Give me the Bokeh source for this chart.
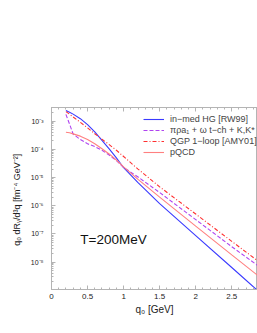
from bokeh.plotting import figure
from bokeh.models import FixedTicker, Legend, LegendItem, LinearAxis, Range1d, Label
from bokeh.embed import file_html
from bokeh.resources import INLINE

# photon energy q0 [GeV]
q0 = [0.2, 0.25, 0.3, 0.4, 0.5, 0.6, 0.7, 0.8, 0.9, 1.0, 1.2, 1.5, 2.0, 2.5, 2.86]

# rates q0 dR/d^3q [fm^-4 GeV^-2]
hg_rw99 = [2.40e-3, 2.09e-3, 1.78e-3, 1.23e-3, 7.6e-4, 4.2e-4, 2.09e-4, 1.05e-4,
           5.0e-5, 2.24e-5, 6.6e-6, 1.20e-6, 8.7e-8, 6.5e-9, 9.8e-10]
pi_rho_a1 = [1.74e-3, 7.9e-4, 3.5e-4, 2.24e-4, 1.58e-4, 1.26e-4, 9.3e-5, 6.3e-5,
             4.0e-5, 2.29e-5, 1.05e-5, 2.95e-6, 3.24e-7, 3.55e-8, 7.6e-9]
qgp_amy01 = [2.19e-3, 1.78e-3, 1.41e-3, 9.1e-4, 5.8e-4, 3.6e-4, 2.29e-4, 1.48e-4,
             9.3e-5, 5.6e-5, 2.0e-5, 4.7e-6, 5.1e-7, 5.5e-8, 1.12e-8]
pqcd = [4.07e-4, 3.89e-4, 3.55e-4, 2.95e-4, 2.24e-4, 1.58e-4, 1.05e-4, 6.9e-5,
        4.2e-5, 2.4e-5, 8.7e-6, 2.04e-6, 1.91e-7, 1.82e-8, 3.4e-9]

series_labels = ["in\u2212med HG [RW99]", "\u03c0\u03c1a\u2081 + \u03c9 t\u2212ch + K,K*",
                 "QGP 1\u2212loop [AMY01]", "pQCD"]

x_ticks = [0, 0.5, 1, 1.5, 2, 2.5]
x_tick_labels = ["0", "0.5", "1", "1.5", "2", "2.5"]
y_ticks = [1e-3, 1e-4, 1e-5, 1e-6, 1e-7, 1e-8]
y_tick_labels = ["10\u207b\u00b3", "10\u207b\u2074", "10\u207b\u2075", "10\u207b\u2076",
                 "10\u207b\u2077", "10\u207b\u2078"]

FONT = "Liberation Sans"
AX = "#b4b4b4"

p = figure(width=257, height=333, x_range=Range1d(0, 2.857),
           y_range=Range1d(1.076e-9, 3.06e-3), y_axis_type="log",
           output_backend="svg", toolbar_location=None,
           min_border_left=51, min_border_right=0, min_border_top=107, min_border_bottom=44)
p.grid.visible = False
p.outline_line_color = AX
p.background_fill_color = "white"
p.border_fill_color = "white"

x_minor = [i / 10 for i in range(0, 29)]
y_minor = [m * 10.0 ** e for e in range(-9, -2) for m in range(1, 10)]

for ax in [p.xaxis[0], p.yaxis[0]]:
    ax.axis_line_color = AX
    ax.major_tick_line_color = AX
    ax.minor_tick_line_color = AX
    ax.major_tick_in = 4
    ax.major_tick_out = 0
    ax.minor_tick_in = 2
    ax.minor_tick_out = 0
    ax.major_label_text_font = FONT
    ax.axis_label_text_font = FONT
    ax.axis_label_text_font_style = "normal"
    ax.major_label_text_color = "#222222"
    ax.axis_label_text_color = "#222222"

p.xaxis.ticker = FixedTicker(ticks=x_ticks, minor_ticks=x_minor)
p.xaxis.major_label_overrides = dict(zip(x_ticks, x_tick_labels))
p.xaxis.major_label_text_font_size = "8px"
p.xaxis.axis_label = "q\u2080 [GeV]"
p.xaxis.axis_label_text_font_size = "10px"
p.xaxis.major_label_standoff = 4
p.xaxis.axis_label_standoff = 2

p.yaxis.ticker = FixedTicker(ticks=y_ticks, minor_ticks=y_minor)
p.yaxis.major_label_overrides = dict(zip(y_ticks, y_tick_labels))
p.yaxis.major_label_text_font_size = "7px"
p.yaxis.axis_label = "q\u2080 dR\u1d67/d\u00b3q  [fm\u207b\u2074 GeV\u207b\u00b2]"
p.yaxis.axis_label_text_font_size = "9px"
p.yaxis.major_label_standoff = 8
p.yaxis.axis_label_standoff = 6

top = LinearAxis(ticker=FixedTicker(ticks=x_ticks, minor_ticks=x_minor),
                 axis_line_color=AX, major_tick_line_color=AX, minor_tick_line_color=AX,
                 major_tick_in=4, major_tick_out=0, minor_tick_in=2, minor_tick_out=0,
                 major_label_text_alpha=0, major_label_text_font_size="1px")
p.add_layout(top, "above")

r1 = p.line(q0, hg_rw99, line_color="#3a3aff", line_width=1.1)
r2 = p.line(q0, pi_rho_a1, line_color="#b044f0", line_width=1.1, line_dash="4 2")
r3 = p.line(q0, qgp_amy01, line_color="#ff3030", line_width=1.1, line_dash="4 2 1 2")
r4 = p.line(q0, pqcd, line_color="#ff8080", line_width=1.1)

legend = Legend(items=[LegendItem(label=series_labels[0], renderers=[r1]),
                       LegendItem(label=series_labels[1], renderers=[r2]),
                       LegendItem(label=series_labels[2], renderers=[r3]),
                       LegendItem(label=series_labels[3], renderers=[r4])],
                location=(92, 132), padding=0, margin=0, spacing=1,
                label_height=10, glyph_height=10, glyph_width=21, label_standoff=6,
                label_text_font=FONT, label_text_font_size="9px",
                border_line_color=None, background_fill_alpha=0)
p.add_layout(legend)

p.add_layout(Label(x=0.40, y=6.5e-8, text="T=200MeV", text_font=FONT,
                   text_font_size="13.5px", text_baseline="middle", text_color="#111111"))

open("out.html", "w").write(file_html(p, INLINE))
